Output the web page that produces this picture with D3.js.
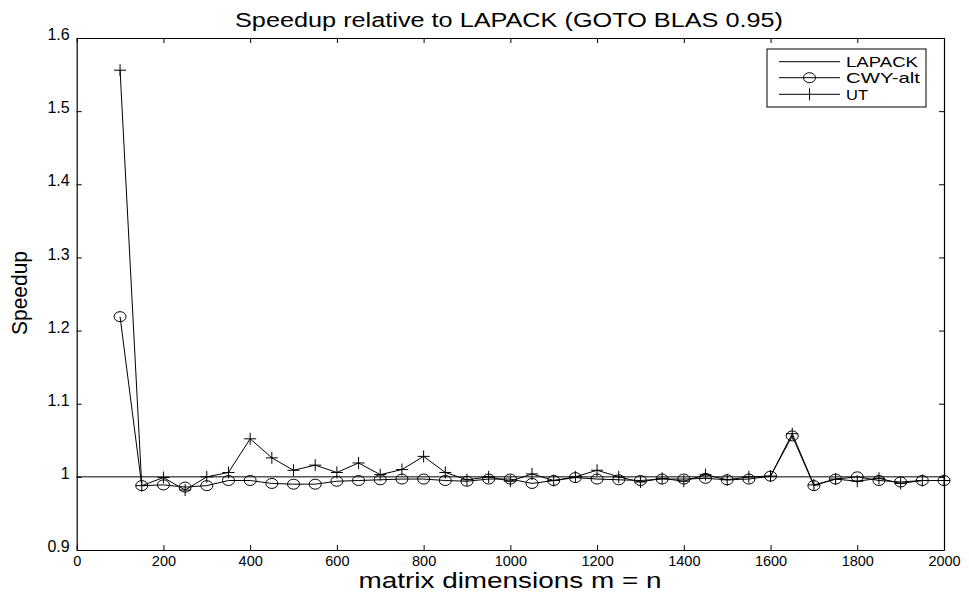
<!DOCTYPE html>
<html><head><meta charset="utf-8">
<script src="https://cdn.jsdelivr.net/npm/d3@7"></script>
<style>
html,body{margin:0;padding:0;background:#fff;}
text{font-family:"Liberation Sans",Arial,Helvetica,sans-serif;fill:#000;}
</style></head>
<body>
<svg id="chart" width="969" height="594"></svg>
<script>
const title = "Speedup relative to LAPACK (GOTO BLAS 0.95)";
const xLabel = "matrix dimensions m = n";
const yLabel = "Speedup";
const seriesNames = ["LAPACK", "CWY-alt", "UT"];
const sizes = [100,150,200,250,300,350,400,450,500,550,600,650,700,750,800,850,900,950,1000,1050,1100,1150,1200,1250,1300,1350,1400,1450,1500,1550,1600,1650,1700,1750,1800,1850,1900,1950,2000];
const lapackX = [0, 2000];
const lapackY = [1, 1];
const cwyAlt = [1.219,0.988,0.989,0.986,0.988,0.995,0.995,0.991,0.990,0.990,0.994,0.995,0.996,0.997,0.997,0.995,0.994,0.997,0.997,0.991,0.995,0.999,0.997,0.996,0.995,0.997,0.997,0.998,0.996,0.997,1.001,1.056,0.988,0.997,1.000,0.995,0.993,0.995,0.995];
const ut = [1.556,0.988,0.999,0.982,1.000,1.006,1.052,1.026,1.009,1.016,1.006,1.019,1.003,1.010,1.028,1.006,0.996,1.000,0.994,1.004,0.995,1.000,1.009,1.000,0.993,0.998,0.994,1.003,0.996,1.000,1.001,1.059,0.989,0.997,0.994,0.998,0.991,0.995,0.995];
const xTicks = [0,200,400,600,800,1000,1200,1400,1600,1800,2000];
const yTicks = [0.9,1.0,1.1,1.2,1.3,1.4,1.5,1.6];

const svg = d3.select("#chart");
const L = 76.7, R = 944, T = 38, B = 550;
const x = d3.scaleLinear().domain([0,2000]).range([L,R]);
const y = d3.scaleLinear().domain([0.9,1.6]).range([B,T]);

const fmtY = d => (d===1 ? "1" : d3.format(".1f")(d));
const axB = svg.append("g").attr("transform",`translate(0,${B})`)
  .call(d3.axisBottom(x).tickValues(xTicks).tickSizeInner(-5).tickSizeOuter(0).tickPadding(4).tickFormat(d3.format("d")));
const axT = svg.append("g").attr("transform",`translate(0,${T})`)
  .call(d3.axisTop(x).tickValues(xTicks).tickSizeInner(-5).tickSizeOuter(0).tickFormat(""));
const axL = svg.append("g").attr("transform",`translate(${L},0)`)
  .call(d3.axisLeft(y).tickValues(yTicks).tickSizeInner(-5).tickSizeOuter(0).tickPadding(7).tickFormat(fmtY));
const axR = svg.append("g").attr("transform",`translate(${R},0)`)
  .call(d3.axisRight(y).tickValues(yTicks).tickSizeInner(-5).tickSizeOuter(0).tickFormat(""));
[axB,axT,axL,axR].forEach(g=>{
  g.select(".domain").attr("stroke","#000").attr("stroke-width",1.2);
  g.selectAll(".tick line").attr("stroke","#000");
  g.selectAll("text").attr("font-family","Liberation Sans, Arial, sans-serif").attr("font-size",16).attr("fill","#000");
});
axB.selectAll(".tick text").attr("font-size",14.5).attr("dy","0.8em");
axL.selectAll(".tick text").attr("dy","0.1em");

const lineGen = d3.line().x(d=>x(d[0])).y(d=>y(d[1]));
svg.append("path").datum(lapackX.map((v,i)=>[v,lapackY[i]]))
  .attr("d",lineGen).attr("fill","none").attr("stroke","#000").attr("stroke-width",1);

const cwyData = sizes.map((s,i)=>[s,cwyAlt[i]]);
svg.append("path").datum(cwyData).attr("d",lineGen).attr("fill","none").attr("stroke","#000").attr("stroke-width",1);
svg.append("g").selectAll("ellipse").data(cwyData).join("ellipse")
  .attr("cx",d=>x(d[0])).attr("cy",d=>y(d[1])).attr("rx",6).attr("ry",5)
  .attr("fill","none").attr("stroke","#000").attr("stroke-width",1);

const utData = sizes.map((s,i)=>[s,ut[i]]);
svg.append("path").datum(utData).attr("d",lineGen).attr("fill","none").attr("stroke","#000").attr("stroke-width",1);
svg.append("g").selectAll("path").data(utData).join("path")
  .attr("d",d=>{const cx=x(d[0]),cy=y(d[1]);return `M${cx-6},${cy}H${cx+6}M${cx},${cy-6}V${cy+6}`;})
  .attr("fill","none").attr("stroke","#000").attr("stroke-width",1);

svg.append("text").attr("x",509).attr("y",27).attr("text-anchor","middle").attr("font-size",20)
  .attr("textLength",548).attr("lengthAdjust","spacingAndGlyphs").text(title);
svg.append("text").attr("x",510).attr("y",588).attr("text-anchor","middle").attr("font-size",22)
  .attr("textLength",303).attr("lengthAdjust","spacingAndGlyphs").text(xLabel);
svg.append("text").attr("transform","translate(27,293) rotate(-90)").attr("text-anchor","middle").attr("font-size",22)
  .attr("textLength",84).attr("lengthAdjust","spacingAndGlyphs").text(yLabel);

const lg = svg.append("g");
lg.append("rect").attr("x",767).attr("y",49).attr("width",159).attr("height",58)
  .attr("fill","#fff").attr("stroke","#000").attr("stroke-width",1);
const rows = [61.7,77.7,94.3];
const legLen = [72,74,22];
seriesNames.forEach((n,i)=>{
  const yy = rows[i];
  lg.append("line").attr("x1",779).attr("x2",840).attr("y1",yy).attr("y2",yy).attr("stroke","#000");
  if(i===1) lg.append("ellipse").attr("cx",809.5).attr("cy",yy).attr("rx",6).attr("ry",5).attr("fill","none").attr("stroke","#000");
  if(i===2) lg.append("line").attr("x1",809.5).attr("x2",809.5).attr("y1",yy-6).attr("y2",yy+6).attr("stroke","#000");
  lg.append("text").attr("x",846).attr("y",yy).attr("dy","0.36em").attr("font-size",15)
    .attr("textLength",legLen[i]).attr("lengthAdjust","spacingAndGlyphs").text(n);
});
</script>
</body></html>
